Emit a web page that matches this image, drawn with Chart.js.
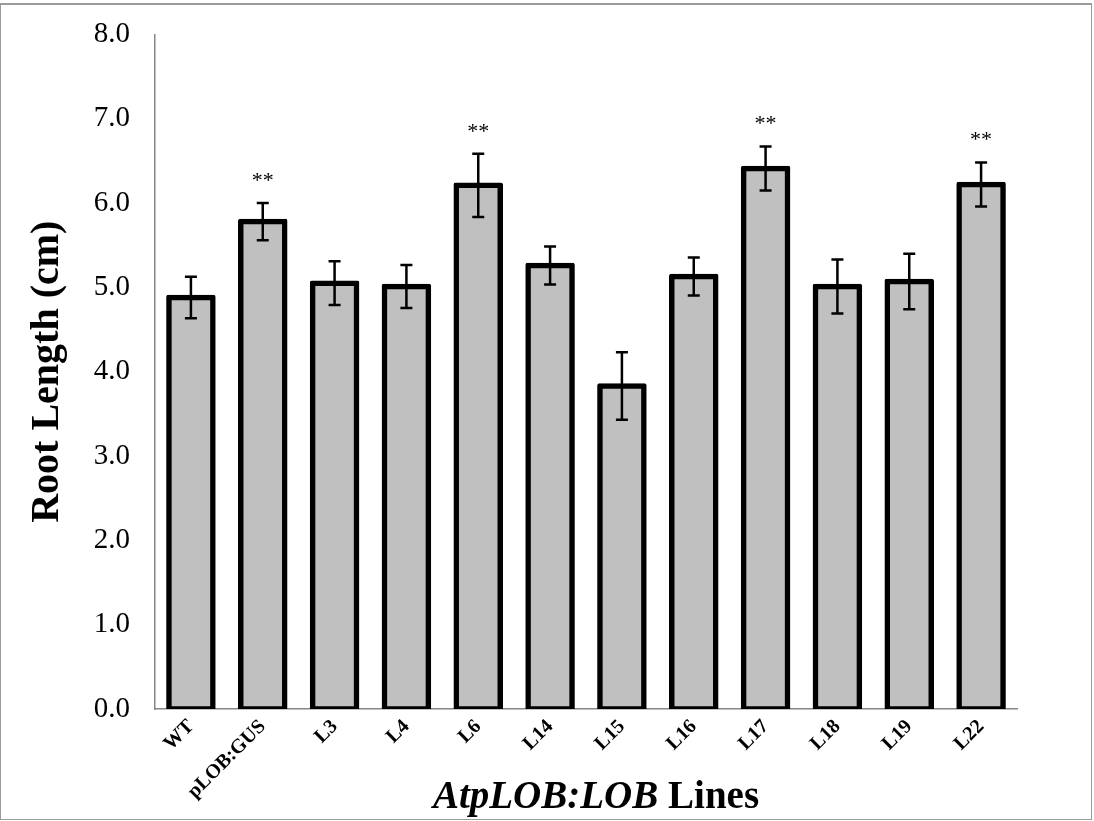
<!DOCTYPE html>
<html lang="en">
  <head>
    <meta charset="UTF-8" />
    <title>Root Length</title>
    <script src="https://cdn.jsdelivr.net/npm/chart.js@4.4.0/dist/chart.umd.min.js"></script>
    <style>
      body {
        margin: 0;
        background: #fff;
      }
      .wrap {
        position: relative;
        width: 1094px;
        height: 821px;
      }
      .frame {
        position: absolute;
        left: 0;
        top: 3px;
        width: 1090px;
        height: 814px;
        border: 1px solid #9a9a9a;
        border-top: 2px solid #9a9a9a;
        pointer-events: none;
      }
      canvas {
        position: absolute;
        left: 0;
        top: 0;
      }
    </style>
  </head>
  <body>
    <div class="wrap">
      <canvas id="rootChart" width="1094" height="821"></canvas>
      <div class="frame"></div>
    </div>

    <script>
      // valores
      const lines = ["WT", "pLOB:GUS", "L3", "L4", "L6", "L14", "L15", "L16", "L17", "L18", "L19", "L22"];
      const rootLength = [4.88, 5.78, 5.05, 5.01, 6.21, 5.26, 3.83, 5.13, 6.41, 5.01, 5.07, 6.22];
      const stdError = [0.245, 0.22, 0.26, 0.255, 0.375, 0.225, 0.4, 0.225, 0.26, 0.32, 0.33, 0.26];
      const signif = ["", "**", "", "", "**", "", "", "", "**", "", "", "**"];

      const serif = "'Liberation Serif', 'Times New Roman', serif";

      // barras de error, asteriscos y título del eje x
      const extras = {
        id: "extras",
        afterDatasetsDraw(chart) {
          const ctx = chart.ctx;
          const y = chart.scales.y;
          const bars = chart.getDatasetMeta(0).data;
          ctx.save();
          ctx.strokeStyle = "#000";
          ctx.lineWidth = 2.5;
          bars.forEach((bar, i) => {
            const top = y.getPixelForValue(rootLength[i] + stdError[i]);
            const bottom = y.getPixelForValue(rootLength[i] - stdError[i]);
            ctx.beginPath();
            ctx.moveTo(bar.x, top);
            ctx.lineTo(bar.x, bottom);
            ctx.moveTo(bar.x - 6, top);
            ctx.lineTo(bar.x + 6, top);
            ctx.moveTo(bar.x - 6, bottom);
            ctx.lineTo(bar.x + 6, bottom);
            ctx.stroke();
            if (signif[i]) {
              ctx.fillStyle = "#000";
              ctx.font = "22px " + serif;
              ctx.textAlign = "center";
              ctx.textBaseline = "middle";
              ctx.fillText(signif[i], bar.x, top - 22);
            }
          });
          ctx.restore();
        },
        afterDraw(chart) {
          const ctx = chart.ctx;
          const area = chart.chartArea;
          const italicPart = "AtpLOB:LOB";
          const plainPart = " Lines";
          ctx.save();
          ctx.fillStyle = "#000";
          ctx.textBaseline = "alphabetic";
          ctx.font = "italic bold 39px " + serif;
          const w1 = ctx.measureText(italicPart).width;
          ctx.font = "bold 39px " + serif;
          const w2 = ctx.measureText(plainPart).width;
          const cx = (area.left + area.right) / 2 + 10;
          let x = cx - (w1 + w2) / 2;
          ctx.textAlign = "left";
          ctx.font = "italic bold 39px " + serif;
          ctx.fillText(italicPart, x, 808);
          ctx.font = "bold 39px " + serif;
          ctx.fillText(plainPart, x + w1, 808);
          ctx.restore();
        },
      };

      const ctx = document.getElementById("rootChart").getContext("2d");
      new Chart(ctx, {
        type: "bar",
        data: {
          labels: lines,
          datasets: [
            {
              data: rootLength,
              backgroundColor: "#c0c0c0",
              borderColor: "#000",
              borderWidth: 5.5,
              borderSkipped: false,
              borderRadius: 2,
              inflateAmount: 2.75,
              barPercentage: 0.613,
              categoryPercentage: 1,
            },
          ],
        },
        options: {
          responsive: false,
          animation: false,
          layout: {
            padding: { top: 34, right: 77, left: 0, bottom: 0 },
          },
          plugins: {
            legend: { display: false },
            tooltip: { enabled: false },
          },
          scales: {
            x: {
              grid: { display: false },
              border: { display: true, color: "#868686", width: 1.5 },
              ticks: {
                color: "#000",
                font: { family: serif, size: 20, weight: "bold" },
                minRotation: 45,
                maxRotation: 45,
                padding: -2,
              },
              afterFit(scale) {
                scale.height = 112;
              },
            },
            y: {
              min: 0,
              max: 8,
              grid: { display: false },
              border: { display: true, color: "#868686", width: 1.5 },
              ticks: {
                stepSize: 1,
                color: "#000",
                font: { family: serif, size: 29 },
                padding: 17,
                callback: (value) => value.toFixed(1),
              },
              title: {
                display: true,
                text: "Root Length (cm)",
                color: "#000",
                font: { family: serif, size: 40, weight: "bold" },
                padding: { top: 24 },
              },
              afterFit(scale) {
                scale.width = 155;
              },
            },
          },
        },
        plugins: [extras],
      });
    </script>
  </body>
</html>
